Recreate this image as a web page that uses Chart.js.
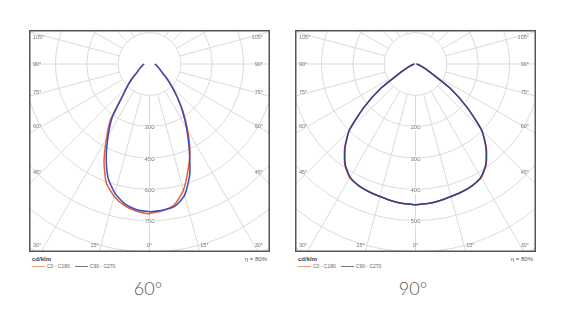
<!DOCTYPE html>
<html>
<head>
<meta charset="utf-8">
<script src="https://cdn.jsdelivr.net/npm/chart.js@4.4.1/dist/chart.umd.min.js"></script>
<style>
  html, body { margin: 0; padding: 0; background: #ffffff; }
  body { width: 578px; height: 321px; position: relative; overflow: hidden; font-family: "Liberation Sans", "DejaVu Sans", sans-serif; }
  canvas.ldc { position: absolute; top: 30px; }
  .unit { position: absolute; top: 256px; font-size: 6px; font-weight: bold; color: #444; }
  .eta { position: absolute; top: 256px; font-size: 6px; color: #555; text-align: right; width: 60px; }
  .legend { position: absolute; top: 263px; font-size: 5px; color: #666; white-space: nowrap; line-height: 6px; }
  .legend .sw { display: inline-block; width: 13px; height: 1px; vertical-align: middle; margin-right: 2px; }
  .legend .item { margin-right: 5px; }
  .caption { position: absolute; top: 277px; width: 80px; text-align: center; font-family: Lato, "Open Sans", sans-serif; font-weight: 300; font-size: 18px; color: #555; }
</style>
</head>
<body>
<canvas class="ldc" id="c60" width="241" height="222" style="left:29px"></canvas>
<canvas class="ldc" id="c90" width="241" height="222" style="left:295px"></canvas>

<div class="unit" id="u60" style="left:32px"></div>
<div class="eta" id="e60" style="left:207px"></div>
<div class="legend" id="l60" style="left:32px"></div>
<div class="caption" id="t60" style="left:108px"></div>

<div class="unit" id="u90" style="left:298px"></div>
<div class="eta" id="e90" style="left:473px"></div>
<div class="legend" id="l90" style="left:298px"></div>
<div class="caption" id="t90" style="left:373px"></div>

<script>
// ---------- data (cd/klm), gamma angles from nadir ----------
const angles = [0, 5, 10, 15, 20, 25, 30, 35, 40, 45, 50, 55, 60, 65, 70, 75, 80, 85, 90];

// 60° beam
const beam60_C0   = [715, 705, 684, 626, 540, 458, 365, 282, 208, 152, 110, 78, 62, 52, 44, 38, 33, 29, 26];
const beam60_C180 = [718, 708, 688, 655, 605, 515, 412, 325, 205, 150, 110, 78, 62, 52, 44, 38, 33, 29, 26];
const beam60_C90  = [707, 703, 692, 650, 563, 450, 355, 275, 205, 148, 108, 77, 62, 52, 44, 38, 33, 29, 26];
const beam60_C270 = [707, 700, 680, 640, 580, 490, 395, 310, 200, 148, 108, 77, 62, 52, 44, 38, 33, 29, 26];
const beam60_rings = [150, 300, 450, 600, 750, 900, 1050, 1200];
const beam60_ringLabels = ['300', '450', '600', '750'];

// 90° beam
const beam90_C0   = [449, 447, 443, 438, 434, 429, 419, 393, 352, 299, 214, 134, 58, 30, 18, 12, 8, 5, 3];
const beam90_C180 = [449, 447, 443, 438, 434, 429, 419, 393, 352, 299, 214, 134, 58, 30, 18, 12, 8, 5, 3];
const beam90_C90  = [449, 447, 443, 438, 434, 428, 417, 391, 350, 298, 214, 134, 58, 30, 18, 12, 8, 5, 3];
const beam90_C270 = [449, 447, 443, 438, 434, 428, 417, 391, 350, 298, 214, 134, 58, 30, 18, 12, 8, 5, 3];
const beam90_rings = [100, 200, 300, 400, 500, 600, 700, 800];
const beam90_ringLabels = ['200', '300', '400', '500'];

const edgeLabelAngles = [0, 15, 30, 45, 60, 75, 90, 105];
const seriesLabels = ['C0 - C180', 'C90 - C270'];
const captions = ['60°', '90°'];
const unitLabel = 'cd/klm';
const etaLabel = 'η = 80%';

// ---------- styles ----------
const LEG_A = '#f0a07c';
const LEG_B = '#777777';

function polarPoints(leftHalf, rightHalf) {
  const pts = [];
  for (let i = angles.length - 1; i >= 0; i--) {
    const t = angles[i] * Math.PI / 180;
    pts.push({ x: -leftHalf[i] * Math.sin(t), y: -leftHalf[i] * Math.cos(t) });
  }
  for (let i = 0; i < angles.length; i++) {
    const t = angles[i] * Math.PI / 180;
    pts.push({ x: rightHalf[i] * Math.sin(t), y: -rightHalf[i] * Math.cos(t) });
  }
  return pts;
}

const polarGrid = {
  id: 'polarGrid',
  beforeDatasetsDraw(chart, args, opts) {
    const { ctx, chartArea: a, scales: { x, y } } = chart;
    const cx = x.getPixelForValue(0), cy = y.getPixelForValue(0);
    const kx = (x.getPixelForValue(1000) - cx) / 1000;
    const ky = (cy - y.getPixelForValue(1000)) / 1000;
    ctx.save();
    ctx.beginPath();
    ctx.rect(a.left, a.top, a.right - a.left, a.bottom - a.top);
    ctx.clip();
    ctx.strokeStyle = '#dadada';
    ctx.lineWidth = 1;
    opts.rings.forEach(r => {
      ctx.beginPath();
      ctx.ellipse(cx, cy, r * kx, r * ky, 0, 0, Math.PI * 2);
      ctx.stroke();
    });
    const r0 = opts.rings[0], r1 = opts.rings[opts.rings.length - 1] * 2;
    for (let d = 0; d < 360; d += 15) {
      const t = d * Math.PI / 180;
      ctx.beginPath();
      ctx.moveTo(cx + r0 * kx * Math.sin(t), cy + r0 * ky * Math.cos(t));
      ctx.lineTo(cx + r1 * kx * Math.sin(t), cy + r1 * ky * Math.cos(t));
      ctx.stroke();
    }
    // ring value labels along the 0° axis
    ctx.font = '6px "Liberation Sans", sans-serif';
    ctx.textAlign = 'center';
    ctx.textBaseline = 'middle';
    opts.ringLabels.forEach(lbl => {
      const v = parseFloat(lbl);
      const py = cy + v * ky + 1;
      const w = ctx.measureText(lbl).width;
      ctx.fillStyle = '#ffffff';
      ctx.fillRect(cx - w / 2 - 1, py - 3, w + 2, 6);
      ctx.fillStyle = '#777777';
      ctx.fillText(lbl, cx, py);
    });
    // angle labels at the frame
    ctx.font = '5.5px "Liberation Sans", sans-serif';
    ctx.fillStyle = '#777777';
    const inX = (a.right - a.left) / 2 - 12.5;
    edgeLabelAngles.forEach(deg => {
      const sides = deg === 0 ? [1] : [-1, 1];
      sides.forEach(s => {
        const t = deg * Math.PI / 180;
        let px, py;
        if (deg >= 45) {
          px = s < 0 ? a.left + 4 : a.right - 7;
          py = cy + inX / Math.tan(t);
          py = Math.max(a.top + 7, Math.min(a.bottom - 7, py));
          ctx.textAlign = s < 0 ? 'left' : 'right';
        } else {
          py = a.bottom - 7;
          px = cx + s * ((a.bottom - cy) * Math.tan(t) + (deg === 0 ? 0 : 4.5));
          ctx.textAlign = 'center';
          if (px < a.left + 10) { px = a.left + 4; ctx.textAlign = 'left'; }
          if (px > a.right - 10) { px = a.right - 7; ctx.textAlign = 'right'; }
        }
        ctx.fillText(deg + '°', px, py);
      });
    });
    ctx.restore();
  },
  afterDraw(chart) {
    const { ctx, chartArea: a } = chart;
    ctx.save();
    ctx.strokeStyle = '#555555';
    ctx.lineWidth = 1.5;
    ctx.strokeRect(a.left + 0.75, a.top + 0.75, a.right - a.left - 1.5, a.bottom - a.top - 1.5);
    ctx.restore();
  }
};

function makeLdc(id, cA_left, cA_right, cB_left, cB_right, rings, ringLabels, view, colA, colB) {
  new Chart(document.getElementById(id), {
    type: 'scatter',
    data: {
      datasets: [
        { label: seriesLabels[0], data: polarPoints(cA_left, cA_right), showLine: true, borderColor: colA, borderWidth: 1.5, pointRadius: 0, tension: 0.2, fill: false, order: 1 },
        { label: seriesLabels[1], data: polarPoints(cB_left, cB_right), showLine: true, borderColor: colB, borderWidth: 1.5, pointRadius: 0, tension: 0.2, fill: false, order: 0 }
      ]
    },
    options: {
      responsive: false,
      animation: false,
      events: [],
      layout: { padding: 0 },
      plugins: {
        legend: { display: false },
        tooltip: { enabled: false },
        polarGrid: { rings: rings, ringLabels: ringLabels }
      },
      scales: {
        x: { type: 'linear', display: false, min: -view.half, max: view.half },
        y: { type: 'linear', display: false, min: -view.bottom, max: view.top }
      }
    },
    plugins: [polarGrid]
  });
}

// view extents in cd/klm (box 241x222 px, origin 34px below top)
makeLdc('c60', beam60_C180, beam60_C0, beam60_C270, beam60_C90, beam60_rings, beam60_ringLabels,
        { half: 576.9, top: 162.8, bottom: 900 }, '#e55d33', '#3b4cc0');
makeLdc('c90', beam90_C180, beam90_C0, beam90_C270, beam90_C90, beam90_rings, beam90_ringLabels,
        { half: 384.6, top: 108.5, bottom: 600 }, '#d0405a', '#3a3f88');

function legendHtml() {
  return '<span class="sw" style="background:' + LEG_A + '"></span><span class="item">' + seriesLabels[0] + '</span>' +
         '<span class="sw" style="background:' + LEG_B + '"></span><span class="item">' + seriesLabels[1] + '</span>';
}
['60', '90'].forEach((k, i) => {
  document.getElementById('u' + k).textContent = unitLabel;
  document.getElementById('e' + k).textContent = etaLabel;
  document.getElementById('l' + k).innerHTML = legendHtml();
  document.getElementById('t' + k).textContent = captions[i];
});
</script>
</body>
</html>
